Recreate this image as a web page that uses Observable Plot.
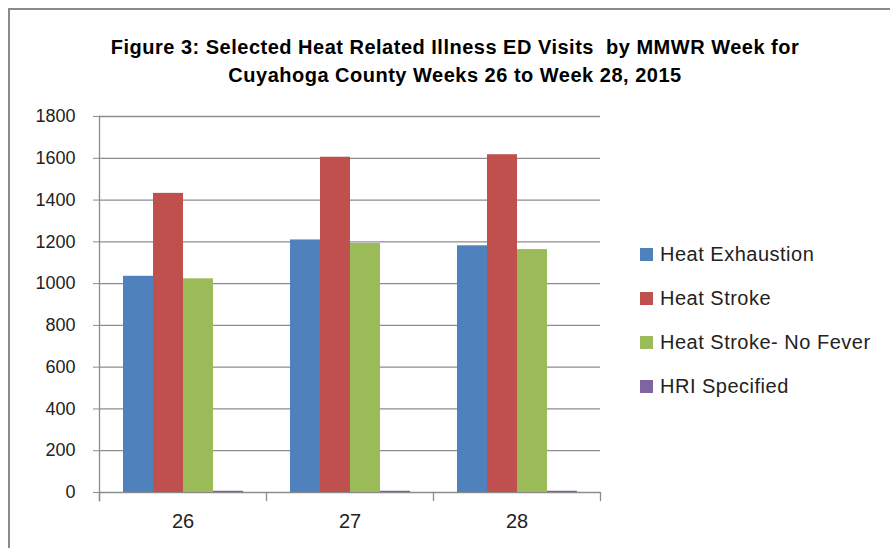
<!DOCTYPE html>
<html>
<head>
<meta charset="utf-8">
<script src="https://cdn.jsdelivr.net/npm/d3@7"></script>
<script src="https://cdn.jsdelivr.net/npm/@observablehq/plot@0.6"></script>
<style>
  html, body { margin: 0; padding: 0; background: #fff; }
  #wrap { position: relative; width: 890px; height: 548px; overflow: hidden; font-family: "Liberation Sans", Arial, sans-serif; }
  #border { position: absolute; left: 8px; top: 8px; width: 900px; height: 560px; border: 2px solid #8a8a8a; box-sizing: border-box; }
  #title { position: absolute; left: 0; top: 33px; width: 910px; text-align: center; font-weight: bold; font-size: 20px; line-height: 28px; color: #000; letter-spacing: 0.5px; }
  #chart { position: absolute; left: 0; top: 0; }
  #legend { position: absolute; left: 640px; top: 232px; font-size: 20px; color: #222; letter-spacing: 0.5px; }
  .item { display: flex; align-items: center; height: 44px; }
  .sw { width: 13px; height: 13px; margin-right: 7px; }
</style>
</head>
<body>
<div id="wrap">
  <div id="border"></div>
  <div id="title">Figure 3: Selected Heat Related Illness ED Visits&nbsp; by MMWR Week for<br>Cuyahoga County Weeks 26 to Week 28, 2015</div>
  <div id="chart"></div>
  <div id="legend"></div>
</div>
<script>
const weeks = ["26", "27", "28"];
const seriesNames = ["Heat Exhaustion", "Heat Stroke", "Heat Stroke- No Fever", "HRI Specified"];
const heatExhaustion = [1035, 1209, 1181];
const heatStroke = [1432, 1605, 1617];
const heatStrokeNoFever = [1023, 1192, 1163];
const hriSpecified = [6, 6, 6];
const colors = ["#4F81BD", "#C0504D", "#9BBB59", "#8064A2"];
const yTicks = [0, 200, 400, 600, 800, 1000, 1200, 1400, 1600, 1800];

const seriesValues = [heatExhaustion, heatStroke, heatStrokeNoFever, hriSpecified];
const data = [];
weeks.forEach((w, i) => seriesNames.forEach((s, j) => data.push({week: w, series: s, value: seriesValues[j][i]})));

const W = 890, H = 548, mL = 98, mR = 290, mT = 116, mB = 56;
const plotH = H - mT - mB;
const grid = "#8c8c8c";

const chart = Plot.plot({
  width: W, height: H,
  marginLeft: mL, marginRight: mR, marginTop: mT, marginBottom: mB,
  style: {fontFamily: "Liberation Sans, Arial, sans-serif", fontSize: "18px", color: "#222", background: "transparent", overflow: "visible"},
  fx: {domain: weeks, paddingInner: 0, paddingOuter: 0, label: null, axis: null},
  x: {domain: seriesNames, paddingInner: 0, paddingOuter: 0.75, axis: null},
  y: {domain: [0, 1800], ticks: yTicks, label: null},
  color: {domain: seriesNames, range: colors},
  marks: [
    Plot.ruleY(yTicks, {stroke: grid, strokeWidth: 1.3}),
    Plot.barY(data, {fx: "week", x: "series", y: "value", fill: "series"}),
    Plot.frame({anchor: "left", facetAnchor: "left", stroke: grid, strokeWidth: 1.3, insetBottom: -8}),
    Plot.frame({anchor: "left", facetAnchor: null, stroke: grid, strokeWidth: 1.3, insetTop: plotH, insetBottom: -8}),
    Plot.frame({anchor: "right", facetAnchor: "right", stroke: grid, strokeWidth: 1.3, insetTop: plotH, insetBottom: -8}),
    Plot.axisY({ticks: yTicks, tickSize: 6, tickPadding: 18, stroke: grid, tickFormat: d => String(d), fill: "#222", fontSize: 18}),
    Plot.axisFx({anchor: "bottom", tickSize: 0, tickPadding: 21, label: null, fill: "#222", fontSize: 20})
  ]
});
document.getElementById("chart").appendChild(chart);

const legend = document.getElementById("legend");
seriesNames.forEach((s, i) => {
  const item = document.createElement("div");
  item.className = "item";
  const sw = document.createElement("div");
  sw.className = "sw";
  sw.style.background = colors[i];
  const t = document.createElement("span");
  t.textContent = s;
  item.appendChild(sw); item.appendChild(t);
  legend.appendChild(item);
});
</script>
</body>
</html>
